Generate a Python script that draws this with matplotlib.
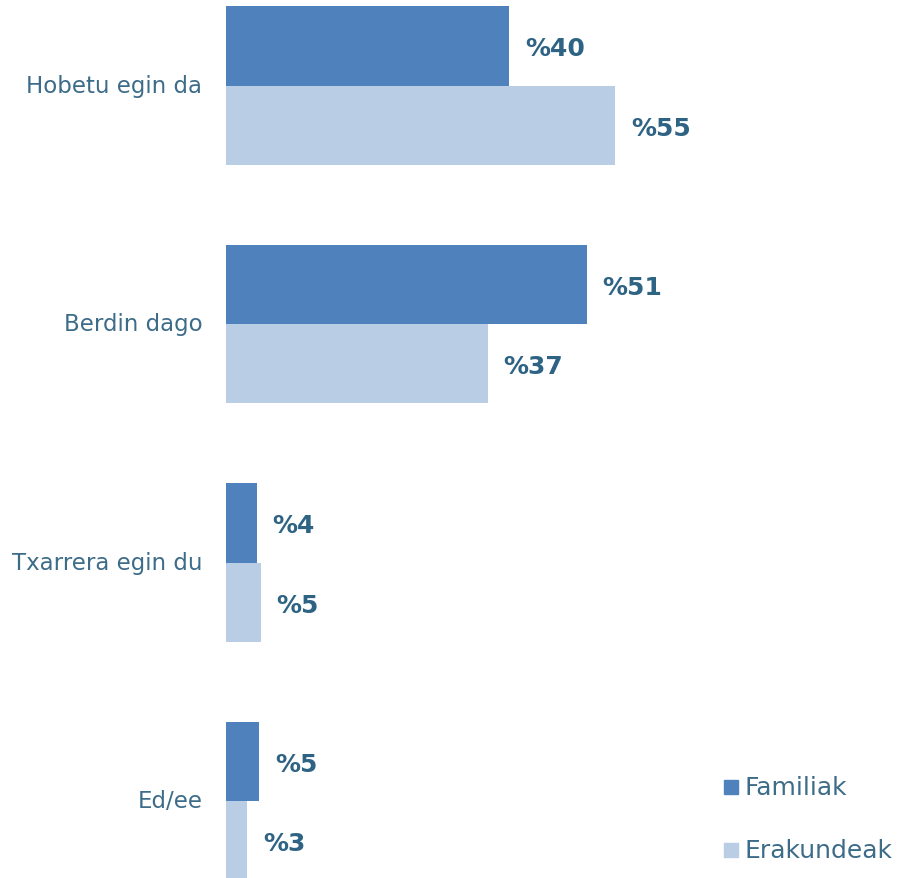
import matplotlib
matplotlib.use("Agg")
import matplotlib.pyplot as plt
from matplotlib.patches import Rectangle

categories = ["Hobetu egin da", "Berdin dago", "Txarrera egin du", "Ed/ee"]
familiak = [40, 51, 4.4, 4.7]
erakundeak = [55, 37, 4.9, 3.0]
series_names = ["Familiak", "Erakundeak"]
colors = ["#4F81BD", "#B9CDE5"]

label_color = "#2E6384"
cat_color = "#3D6C89"
plt.rcParams['font.family'] = ['DejaVu Sans']

fig = plt.figure(figsize=(9.04, 8.79), dpi=100)
ax = fig.add_axes([226/904, 0, 678/904, 1])

h = 0.333
ys = list(range(len(categories)))
ax.barh([y - h/2 for y in ys], familiak, height=h, color=colors[0])
ax.barh([y + h/2 for y in ys], erakundeak, height=h, color=colors[1])

for y, v in zip(ys, familiak):
    ax.text(v + 2.2, y - h/2 + 0.01, f"%{round(v)}", va="center", ha="left",
            fontsize=18, fontweight="bold", color=label_color)
for y, v in zip(ys, erakundeak):
    ax.text(v + 2.2, y + h/2 + 0.01, f"%{round(v)}", va="center", ha="left",
            fontsize=18, fontweight="bold", color=label_color)

ax.set_xlim(0, 678/7.08)
ax.set_ylim((879 - 86.5)/238.5, -86.5/238.5)
ax.set_yticks(ys)
ax.set_yticklabels(categories, fontsize=16.5, color=cat_color)
for lbl in ax.get_yticklabels():
    lbl.set_va("center")
ax.tick_params(axis="y", length=0, pad=17)
ax.set_xticks([])
for s in ax.spines.values():
    s.set_visible(False)

# legend
for i, (name, c) in enumerate(zip(series_names, colors)):
    yf = 1 - (788 + i*63)/879
    fig.patches.append(Rectangle((724/904, yf - 7/879), 14/904, 14/879,
                                 transform=fig.transFigure, color=c))
    fig.text(745/904, yf, name, va="center", ha="left", fontsize=18, color=cat_color)

fig.savefig("out.png", dpi=100)
